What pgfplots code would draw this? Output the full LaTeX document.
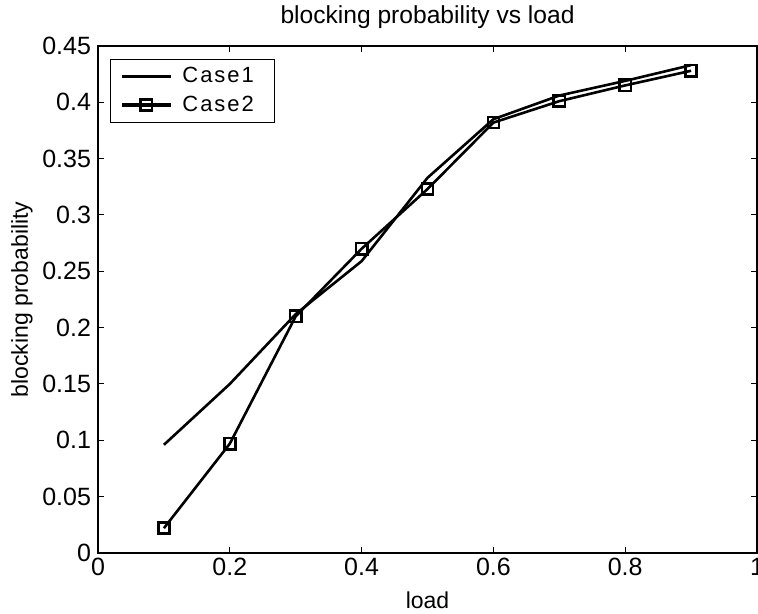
\documentclass[border=0pt]{standalone}
\usepackage{pgfplots}
\pgfplotsset{compat=1.18}
\usepackage{fontspec}
\setmainfont{Liberation Sans}
\begin{document}
\begin{tikzpicture}
\begin{axis}[
  scale only axis,
  width=329.5pt, height=253.5pt,
  xmin=0, xmax=1, ymin=0, ymax=0.45,
  xtick={0,0.2,0.4,0.6,0.8,1},
  ytick={0,0.05,0.1,0.15,0.2,0.25,0.3,0.35,0.4,0.45},
  yticklabels={0,0.05,0.1,0.15,0.2,0.25,0.3,0.35,0.4,0.45},
  xticklabels={0,0.2,0.4,0.6,0.8,1},
  tick align=inside,
  major tick length=3pt,
  tick style={black, line width=0.5pt},
  axis line style={line width=0.6pt},
  ticklabel style={font=\fontsize{12.5}{15}\selectfont},
  xticklabel style={yshift=1pt},
  title={blocking probability vs load},
  title style={font=\fontsize{12.3}{14}\selectfont, yshift=-1pt},
  xlabel={load},
  ylabel={blocking probability},
  xlabel style={font=\fontsize{11.5}{13}\selectfont, yshift=-1pt},
  ylabel style={font=\fontsize{11.5}{13}\selectfont, yshift=-2pt},
  legend style={at={(0.018,0.974)}, anchor=north west,
    font=\fontsize{11}{13}\selectfont\addfontfeature{LetterSpace=9},
    draw=black, inner xsep=5pt, inner ysep=3pt, row sep=3pt,
    nodes={inner xsep=5pt, inner ysep=1pt}},
  legend cell align=left,
  legend image code/.code={\draw[black, line width=1.6pt] (0cm,0cm) -- (0.86cm,0cm); \draw[#1,only marks] plot coordinates {(0.43cm,0cm)};},
  clip=false,
]
\addplot[black, line width=1.3pt] coordinates {
 (0.1,0.096) (0.2,0.150) (0.3,0.212) (0.4,0.259) (0.5,0.333) (0.6,0.385) (0.7,0.406) (0.8,0.419) (0.9,0.433)
};
\addlegendentry{Case1}
\addplot[black, line width=1.3pt, mark=square, mark size=2.8pt, mark options={line width=1.3pt}] coordinates {
 (0.1,0.022) (0.2,0.097) (0.3,0.210) (0.4,0.270) (0.5,0.323) (0.6,0.382) (0.7,0.401) (0.8,0.415) (0.9,0.428)
};
\addlegendentry{Case2}
\coordinate (bl) at (axis cs:-0.1487,-0.0533);
\coordinate (tr) at (axis cs:1.0015,0.4908);
\end{axis}
\pgfresetboundingbox
\useasboundingbox (bl) rectangle (tr);
\end{tikzpicture}
\end{document}
